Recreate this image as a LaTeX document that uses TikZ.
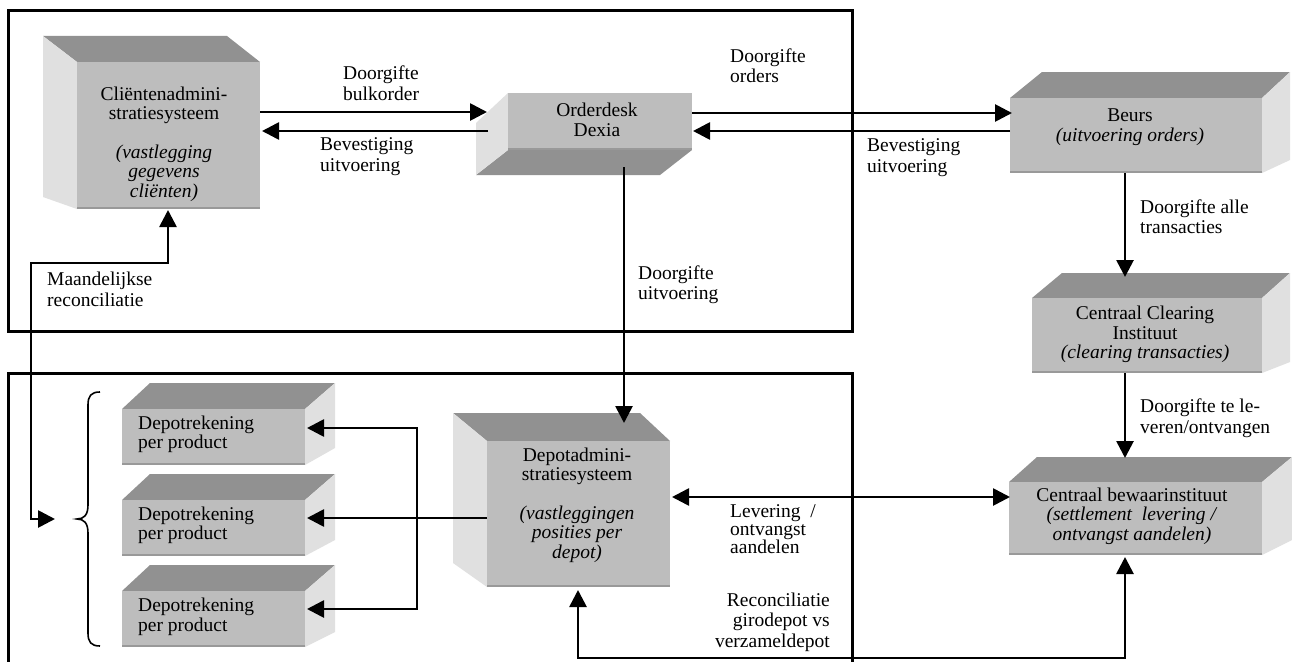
\documentclass[tikz,border=0pt]{standalone}
\usepackage{fontspec}
\setmainfont{Liberation Serif}
\usetikzlibrary{arrows.meta}
\tikzset{
  frontface/.style={fill=black!26, draw=none, inner sep=0pt, outer sep=0pt, rectangle},
  topshade/.style={fill=black!43},
  sideshade/.style={fill=black!12},
  arr/.style={line width=2.7pt, -{Triangle[length=17pt,width=17pt]}},
  darr/.style={line width=2.7pt, {Triangle[length=17pt,width=17pt]}-{Triangle[length=17pt,width=17pt]}},
  boxframe/.style={line width=3pt},
  txt/.style={inner sep=0pt, font=\fontsize{19.5}{19.5}\selectfont, align=center},
  lbl/.style={inner sep=0pt, font=\fontsize{19.5}{20.5}\selectfont, align=left, anchor=west},
}
% name, L, T, R, B, L', T', R', B'  (y measured downwards)
\newcommand\drawcube[9]{%
  \ifdim #7pt<#3pt \fill[topshade] (#2,-#3)--(#4,-#3)--(#8,-#7)--(#6,-#7)--cycle;\fi
  \ifdim #9pt>#5pt \fill[topshade] (#2,-#5)--(#4,-#5)--(#8,-#9)--(#6,-#9)--cycle;\fi
  \ifdim #6pt<#2pt \fill[sideshade] (#2,-#3)--(#2,-#5)--(#6,-#9)--(#6,-#7)--cycle;\fi
  \ifdim #8pt>#4pt \fill[sideshade] (#4,-#3)--(#4,-#5)--(#8,-#9)--(#8,-#7)--cycle;\fi
  \node[frontface, minimum width={(#4-#2)*1pt}, minimum height={(#5-#3)*1pt}]
    (#1) at ({(#2+#4)/2},{-(#5+#3)/2}) {};
  \draw[black!40, line width=2pt] ([yshift=1pt]#1.south west) -- ([yshift=1pt]#1.south east);
}
\begin{document}
\begin{tikzpicture}[x=1pt,y=1pt]
\fill[white] (0,0) rectangle (1292,-661);
\useasboundingbox (0,0) rectangle (1292,-661);

% frames
\draw[boxframe] (8,-11) rectangle (852,-331);
\draw[boxframe] (8,-680) -- (8,-373) -- (852,-373) -- (852,-680);

% cubes
\drawcube{client}{77}{62}{260}{209}{43}{36}{227}{197}
\drawcube{dexia}{508}{93}{692}{150}{476}{123}{660}{175}
\drawcube{beurs}{1010}{98}{1262}{173}{1042}{72}{1290}{160}
\drawcube{clearing}{1032}{298}{1262}{373}{1062}{273}{1290}{362}
\drawcube{bewaar}{1009}{482}{1262}{555}{1037}{457}{1292}{540}
\drawcube{depot}{487}{441}{670}{587}{453}{413}{640}{563}
\drawcube{rek1}{122}{409}{305}{465}{150}{383}{335}{448}
\drawcube{rek2}{122}{500}{305}{556}{150}{474}{335}{540}
\drawcube{rek3}{122}{591}{305}{647}{150}{565}{335}{632}

% box texts
\node[txt] (tclient) at (164,-144) {Cliëntenadmini-\\stratiesysteem\\[19pt]\textit{(vastlegging}\\\textit{gegevens}\\\textit{cliënten)}};
\node[txt] (tdexia) at (597,-120) {Orderdesk\\Dexia};
\node[txt] (tbeurs) at (1130,-127) {Beurs\\\textit{(uitvoering orders)}};
\node[txt] (tclearing) at (1145,-334.5) {Centraal Clearing\\Instituut\\\textit{(clearing transacties)}};
\node[txt] (tbewaar) at (1132,-516) {Centraal bewaarinstituut\\\textit{(settlement~~levering /}\\\textit{ontvangst aandelen)}};
\node[txt] (tdepot) at (577,-505) {Depotadmini-\\stratiesysteem\\[19pt]\textit{(vastleggingen}\\\textit{posities per}\\\textit{depot)}};
\node[txt, align=left, anchor=west] (trek1) at (138,-434.5) {Depotrekening\\per product};
\node[txt, align=left, anchor=west] (trek2) at (138,-525.5) {Depotrekening\\per product};
\node[txt, align=left, anchor=west] (trek3) at (138,-617) {Depotrekening\\per product};

% brace
\draw[line width=1.6pt] (100,-392) .. controls (91,-392) and (88,-396) .. (88,-405) -- (88,-505)
  .. controls (88,-515) and (84,-519) .. (77,-519)
  .. controls (84,-519) and (88,-523) .. (88,-533) -- (88,-633)
  .. controls (88,-642) and (91,-646) .. (100,-646);

% free-end coordinates
\coordinate (maand) at (31,-263);
\coordinate (bracearrow) at (55,-519);
\coordinate (recon) at (1125,-658);
\coordinate (rkTop) at (417,-428);
\coordinate (rkBot) at (417,-609);

% connectors
\draw[arr] ([yshift=23.5pt]client.east) -- ([xshift=-21pt,yshift=9.5pt]dexia.west);
\draw[arr] ([xshift=-20pt,yshift=-9.5pt]dexia.west) -- ([xshift=2pt,yshift=4.5pt]client.east);
\draw[arr] ([yshift=8.5pt]dexia.east) -- ([xshift=2pt,yshift=22.5pt]beurs.west);
\draw[arr] ([yshift=4.5pt]beurs.west) -- ([xshift=1pt,yshift=-9.5pt]dexia.east);
\draw[arr] ([xshift=24pt,yshift=-17pt]dexia.south) -- ([xshift=45.5pt,yshift=18pt]depot.north);
\draw[darr] ([xshift=2pt,yshift=17pt]depot.east) -- ([xshift=1pt,yshift=21.5pt]bewaar.west);
\draw[arr] ([xshift=-11pt]beurs.south) -- ([xshift=-22pt,yshift=21pt]clearing.north);
\draw[arr] ([xshift=-22pt]clearing.south) -- ([xshift=-10.5pt,yshift=24pt]bewaar.north);
\draw[darr] ([xshift=-0.5pt,yshift=-3pt]depot.south) |- (recon) -- ([xshift=-10.5pt,yshift=-2pt]bewaar.south);
\draw[darr] ([xshift=-0.5pt,yshift=-1pt]client.south) |- (maand) |- (bracearrow);
\draw[arr] ([yshift=-4pt]depot.west) -- ([xshift=2pt,yshift=10pt]rek2.east);
\draw[darr] ([xshift=2pt,yshift=9pt]rek1.east) -- (rkTop) -- (rkBot) -- ([xshift=2pt,yshift=10pt]rek3.east);

% labels
\node[lbl] (lbulk) at (343,-83) {Doorgifte\\bulkorder};
\node[lbl] (lbev1) at (320,-156.5) {Bevestiging\\uitvoering};
\node[lbl] (lord) at (730,-65.5) {Doorgifte\\orders};
\node[lbl] (lbev2) at (867,-157.5) {Bevestiging\\uitvoering};
\node[lbl] (luit) at (638,-284.5) {Doorgifte\\uitvoering};
\node[lbl] (lmaand) at (47,-289.5) {Maandelijkse\\reconciliatie};
\node[lbl] (lalle) at (1140,-216.5) {Doorgifte alle\\transacties};
\node[lbl] (lte) at (1140,-418) {Doorgifte te le-\\veren/ontvangen};
\node[lbl, font=\fontsize{19.5}{18}\selectfont] (llev) at (730,-529.5) {Levering\ \ /\\ontvangst\\aandelen};
\node[lbl, anchor=east, align=right] (lrec) at (830,-622) {Reconciliatie\\girodepot vs\\verzameldepot};
\end{tikzpicture}
\end{document}
